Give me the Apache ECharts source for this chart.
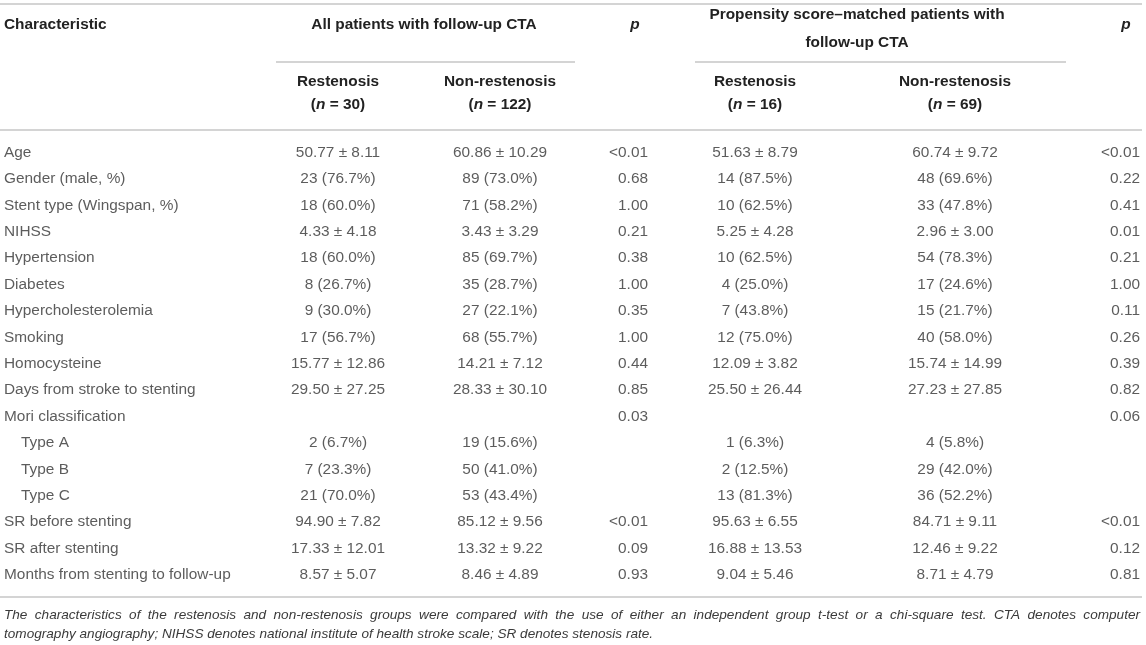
<!DOCTYPE html>
<html>
<head>
<meta charset="utf-8">
<script src="https://cdn.jsdelivr.net/npm/echarts@6/dist/echarts.min.js"></script>
<style>html,body{margin:0;padding:0;background:#fff}#c{width:1146px;height:645px}</style>
</head>
<body>
<div id="c"></div>
<script>
// ---------- data ----------
const characteristics = ['Age','Gender (male, %)','Stent type (Wingspan, %)','NIHSS','Hypertension','Diabetes','Hypercholesterolemia','Smoking','Homocysteine','Days from stroke to stenting','Mori classification','Type A','Type B','Type C','SR before stenting','SR after stenting','Months from stenting to follow-up'];
const indentedRows = ['Type A','Type B','Type C'];
const allRestenosis = ['50.77 ± 8.11','23 (76.7%)','18 (60.0%)','4.33 ± 4.18','18 (60.0%)','8 (26.7%)','9 (30.0%)','17 (56.7%)','15.77 ± 12.86','29.50 ± 27.25','','2 (6.7%)','7 (23.3%)','21 (70.0%)','94.90 ± 7.82','17.33 ± 12.01','8.57 ± 5.07'];
const allNonRestenosis = ['60.86 ± 10.29','89 (73.0%)','71 (58.2%)','3.43 ± 3.29','85 (69.7%)','35 (28.7%)','27 (22.1%)','68 (55.7%)','14.21 ± 7.12','28.33 ± 30.10','','19 (15.6%)','50 (41.0%)','53 (43.4%)','85.12 ± 9.56','13.32 ± 9.22','8.46 ± 4.89'];
const allP = ['<0.01','0.68','1.00','0.21','0.38','1.00','0.35','1.00','0.44','0.85','0.03','','','','<0.01','0.09','0.93'];
const psmRestenosis = ['51.63 ± 8.79','14 (87.5%)','10 (62.5%)','5.25 ± 4.28','10 (62.5%)','4 (25.0%)','7 (43.8%)','12 (75.0%)','12.09 ± 3.82','25.50 ± 26.44','','1 (6.3%)','2 (12.5%)','13 (81.3%)','95.63 ± 6.55','16.88 ± 13.53','9.04 ± 5.46'];
const psmNonRestenosis = ['60.74 ± 9.72','48 (69.6%)','33 (47.8%)','2.96 ± 3.00','54 (78.3%)','17 (24.6%)','15 (21.7%)','40 (58.0%)','15.74 ± 14.99','27.23 ± 27.85','','4 (5.8%)','29 (42.0%)','36 (52.2%)','84.71 ± 9.11','12.46 ± 9.22','8.71 ± 4.79'];
const psmP = ['<0.01','0.22','0.41','0.01','0.21','1.00','0.11','0.26','0.39','0.82','0.06','','','','<0.01','0.12','0.81'];
const headerFirst = 'Characteristic';
const groupHeaders = [['All patients with follow-up CTA'], ['Propensity score–matched patients with','follow-up CTA']];
const subHeaders = ['Restenosis','Non-restenosis'];
const groupN = [[30,122],[16,69]];
const pHeader = 'p';
const footnoteLines = [
  'The characteristics of the restenosis and non-restenosis groups were compared with the use of either an independent group t-test or a chi-square test. CTA denotes computer',
  'tomography angiography; NIHSS denotes national institute of health stroke scale; SR denotes stenosis rate.'
];

// ---------- layout / style ----------
const FAM = '"Liberation Sans", Arial, Helvetica, sans-serif';
const FS = 15.4;
const BODY = '#333';
const HEAD = '#222';
const RULE = '#c6c6c6';
const COLX = { name: 4, nameIndent: 21, aR: 338, aN: 500, aP: 648, pR: 755, pN: 955, pP: 1140 };

function textSeries(values, xFn, align) {
  return {
    type: 'scatter', silent: true, animation: false,
    symbolSize: 0.1, itemStyle: { color: 'rgba(0,0,0,0)' },
    data: values.map((v, i) => ({ value: [xFn(i), i], t: v })).filter(d => d.t !== ''),
    label: {
      show: true, position: 'inside', align: align, verticalAlign: 'middle',
      color: BODY, fontSize: FS, fontFamily: FAM,
      formatter: p => p.data.t
    }
  };
}

const series = [
  textSeries(characteristics, i => indentedRows.includes(characteristics[i]) ? COLX.nameIndent : COLX.name, 'left'),
  textSeries(allRestenosis, () => COLX.aR, 'center'),
  textSeries(allNonRestenosis, () => COLX.aN, 'center'),
  textSeries(allP, () => COLX.aP, 'right'),
  textSeries(psmRestenosis, () => COLX.pR, 'center'),
  textSeries(psmNonRestenosis, () => COLX.pN, 'center'),
  textSeries(psmP, () => COLX.pP, 'right')
];

// ---------- graphic: header, rules, footnote ----------
const bold = 'bold ' + FS + 'px ' + FAM;
const boldIt = 'italic bold ' + FS + 'px ' + FAM;
function txt(x, y, text, font, align, extra) {
  return Object.assign({ type: 'text', x: x, y: y, silent: true,
    style: Object.assign({ text: text, font: font, fill: HEAD, align: align, verticalAlign: 'middle' }, extra || {}) });
}
function rule(x1, x2, y) {
  return { type: 'line', silent: true, shape: { x1: x1, y1: y, x2: x2, y2: y }, style: { stroke: RULE, lineWidth: 1.7 } };
}
const els = [];
els.push(rule(0, 1142, 4));
els.push(rule(276, 575, 62));
els.push(rule(695, 1066, 62));
els.push(rule(0, 1142, 130));
els.push(rule(0, 1142, 597));
els.push(txt(4, 25, headerFirst, bold, 'left'));
els.push(txt(424, 25, groupHeaders[0][0], bold, 'center'));
els.push(txt(857, 15, groupHeaders[1][0], bold, 'center'));
els.push(txt(857, 43, groupHeaders[1][1], bold, 'center'));
els.push(txt(635, 25, pHeader, boldIt, 'center'));
els.push(txt(1126, 25, pHeader, boldIt, 'center'));
const subX = [[COLX.aR, COLX.aN], [COLX.pR, COLX.pN]];
for (let g = 0; g < 2; g++) {
  for (let k = 0; k < 2; k++) {
    els.push(txt(subX[g][k], 82, subHeaders[k], bold, 'center'));
    els.push(txt(subX[g][k], 105, '({i|n} = ' + groupN[g][k] + ')', bold, 'center',
      { rich: { i: { font: boldIt, fill: HEAD } } }));
  }
}
// footnote (first line justified)
const noteFont = 'italic 13.6px ' + FAM;
const ctx = document.createElement('canvas').getContext('2d');
ctx.font = noteFont;
(function () {
  const words = footnoteLines[0].split(' ');
  const w = words.map(s => ctx.measureText(s).width);
  const total = w.reduce((a, b) => a + b, 0);
  const gap = (1140 - 4 - total) / (words.length - 1);
  let x = 4;
  words.forEach((s, i) => {
    els.push(txt(x, 615, s, noteFont, 'left', { fill: '#3a3a3a' }));
    x += w[i] + gap;
  });
})();
els.push(txt(4, 634, footnoteLines[1], noteFont, 'left', { fill: '#3a3a3a' }));

const chart = echarts.init(document.getElementById('c'), null, { renderer: 'canvas' });
chart.setOption({
  backgroundColor: '#fff',
  animation: false,
  grid: { left: 0, right: 0, top: 139.3, bottom: 56.9 },
  xAxis: { type: 'value', min: 0, max: 1146, show: false },
  yAxis: { type: 'category', data: characteristics, inverse: true, show: false },
  series: series,
  graphic: { elements: els }
});
</script>
</body>
</html>
